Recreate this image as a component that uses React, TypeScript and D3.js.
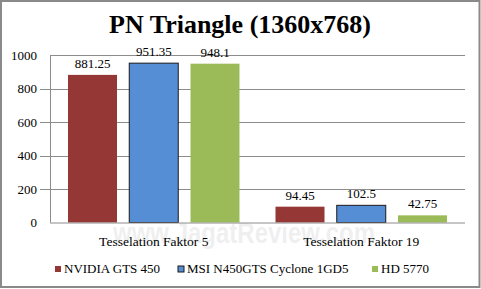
import React from "react";
import * as d3 from "d3";

const categories = ["Tesselation Faktor 5", "Tesselation Faktor 19"];
const seriesNames = ["NVIDIA GTS 450", "MSI N450GTS Cyclone 1GD5", "HD 5770"];
const nvidia = [881.25, 94.45];
const msi = [951.35, 102.5];
const hd = [948.1, 42.75];
const seriesValues = [nvidia, msi, hd];
const seriesColors = ["#953735", "#558ED5", "#9BBB59"];
const valueLabels = [["881.25", "94.45"], ["951.35", "102.5"], ["948.1", "42.75"]];
const yTicks = [0, 200, 400, 600, 800, 1000];

const W = 481, H = 289;
const left = 50, right = 465, top = 55, bottom = 222.5;
const font = "'Liberation Serif', serif";

export default function App() {
  const y = d3.scaleLinear().domain([0, 1000]).range([bottom, top]);
  const x0 = d3.scaleBand().domain(categories).range([left, right]).padding(0);
  const x1 = d3.scaleBand().domain(seriesNames).range([18, x0.bandwidth() - 18]).paddingInner(0.2);
  const legendX = [55, 178, 372];
  return (
    <svg width={W} height={H} style={{ position: "absolute", left: 0, top: 0 }} fontFamily={font}>
      <rect x={0} y={0} width={W} height={H} fill="#fff" />
      <rect x={1} y={1} width={W - 2.5} height={H - 3} fill="none" stroke="#8a8a8a" strokeWidth={2} />
      <text x={240} y={33} textAnchor="middle" fontSize={26} fontWeight="bold" fill="#000">PN Triangle (1360x768)</text>
      <text x={244} y={243} textAnchor="middle" fontSize={30} fontWeight="bold" fontFamily="'Liberation Sans', sans-serif"
        textLength={262} lengthAdjust="spacingAndGlyphs" fill="#000" opacity={0.06}>www.JagatReview.com</text>
      {yTicks.map(t => (
        <g key={t}>
          {t > 0 && t < 1000 && <line x1={40} x2={right} y1={Math.round(y(t)) + 0.5} y2={Math.round(y(t)) + 0.5} stroke="#8c8c8c" />}
          <text x={37} y={y(t) + 4.5} textAnchor="end" fontSize={13}>{t}</text>
        </g>
      ))}
      <line x1={left} x2={right} y1={top + 0.5} y2={top + 0.5} stroke="#8c8c8c" />
      <line x1={left + 0.5} x2={left + 0.5} y1={top} y2={bottom} stroke="#8c8c8c" />
      {categories.map((c, ci) => (
        <g key={c} transform={`translate(${x0(c)},0)`}>
          {seriesNames.map((s, si) => {
            const v = seriesValues[si][ci];
            const bx = x1(s)!;
            return (
              <g key={s}>
                <rect x={bx} y={y(v)} width={x1.bandwidth()} height={bottom - y(v)} fill={seriesColors[si]}
                  stroke={si === 1 ? "#1a1a1a" : "none"} strokeWidth={1} />
                <text x={bx + x1.bandwidth() / 2} y={y(v) - 7} textAnchor="middle" fontSize={13}>{valueLabels[si][ci]}</text>
              </g>
            );
          })}
          <text x={x0.bandwidth() / 2} y={246} textAnchor="middle" fontSize={13.5}>{c}</text>
        </g>
      ))}
      <line x1={left} x2={right} y1={bottom + 0.5} y2={bottom + 0.5} stroke="#8c8c8c" />
      {seriesNames.map((s, i) => (
        <g key={s}>
          <rect x={legendX[i]} y={266} width={6} height={6} fill={seriesColors[i]} stroke={i === 1 ? "#1a1a1a" : "none"} />
          <text x={legendX[i] + 9} y={273} fontSize={13}>{s}</text>
        </g>
      ))}
    </svg>
  );
}
